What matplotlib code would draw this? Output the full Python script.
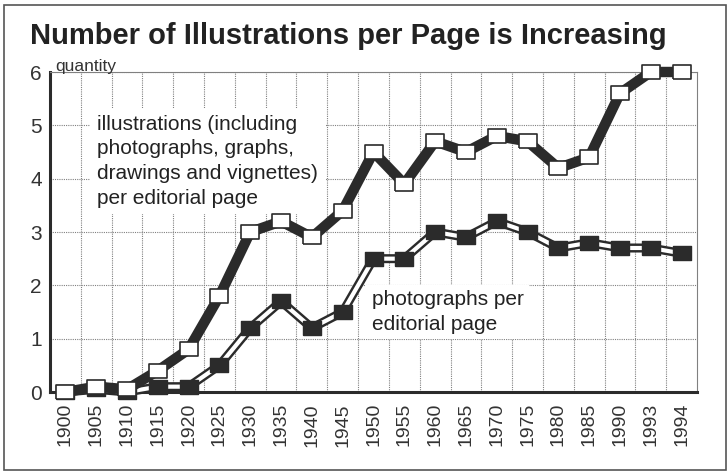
import matplotlib.pyplot as plt
from matplotlib.patches import Rectangle

years = ["1900", "1905", "1910", "1915", "1920", "1925", "1930", "1935", "1940",
         "1945", "1950", "1955", "1960", "1965", "1970", "1975", "1980", "1985",
         "1990", "1993", "1994"]
illustrations = [0.0, 0.1, 0.05, 0.4, 0.8, 1.8, 3.0, 3.2, 2.9, 3.4, 4.5, 3.9,
                 4.7, 4.5, 4.8, 4.7, 4.2, 4.4, 5.6, 6.0, 6.0]
photographs = [0.0, 0.05, 0.0, 0.1, 0.1, 0.5, 1.2, 1.7, 1.2, 1.5, 2.5, 2.5,
               3.0, 2.9, 3.2, 3.0, 2.7, 2.8, 2.7, 2.7, 2.6]

dark = "#2b2b2b"
grid_col = "#808080"
box = [(-1, -0.75), (1, -0.75), (1, 0.75), (-1, 0.75), (-1, -0.75)]

plt.rcParams["font.family"] = ["Liberation Sans", "DejaVu Sans"]

fig = plt.figure(figsize=(7.28, 4.74), dpi=100)
ax = fig.add_axes([50/728, 1-392/474, 647/728, 320/474])

x = list(range(len(years)))

# photographs: white line with dark outline, dark squares
ax.plot(x, photographs, color=dark, lw=6.5, zorder=3, clip_on=False)
ax.plot(x, photographs, color="white", lw=3, zorder=4, clip_on=False)
ax.plot(x, photographs, ls="none", marker=box, ms=12.5, mfc=dark, mec=dark,
        mew=1, zorder=5, clip_on=False)

# illustrations: thick dark line, white squares
ax.plot(x, illustrations, color=dark, lw=7.5, zorder=6, clip_on=False)
ax.plot(x, illustrations, ls="none", marker=box, ms=12.5, mfc="white", mec=dark,
        mew=1.2, zorder=7, clip_on=False)

ax.set_xlim(-0.5, len(years) - 0.5)
ax.set_ylim(0, 6)
ax.set_xticks(x)
ax.set_xticklabels(years, rotation=90, fontsize=14, color="#333333")
ax.set_yticks(range(7))
ax.set_yticklabels([str(i) for i in range(7)], fontsize=15, color="#333333")
ax.set_xticks([i + 0.5 for i in x[:-1]], minor=True)
ax.tick_params(which="both", length=0)
ax.tick_params(axis="y", pad=6)
ax.tick_params(axis="x", pad=8)

ax.grid(True, which="minor", axis="x", color=grid_col, lw=0.8, ls=(0, (1, 1)))
ax.grid(True, which="major", axis="y", color=grid_col, lw=0.8, ls=(0, (1, 1)))
ax.set_axisbelow(True)

for side in ["left", "bottom"]:
    ax.spines[side].set_linewidth(2.2)
    ax.spines[side].set_color(dark)
for side in ["top", "right"]:
    ax.spines[side].set_color(grid_col)
    ax.spines[side].set_linewidth(0.8)
    ax.spines[side].set_linestyle((0, (1, 1)))

ax.text(1.03, 4.33, "illustrations (including\nphotographs, graphs,\ndrawings and vignettes)\nper editorial page",
        fontsize=15, va="center", ha="left", linespacing=1.38, zorder=2, color="#222222",
        bbox=dict(facecolor="white", edgecolor="none", pad=5))
ax.text(9.95, 1.5, "photographs per\neditorial page",
        fontsize=15, va="center", ha="left", linespacing=1.38, zorder=2, color="#222222",
        bbox=dict(facecolor="white", edgecolor="none", pad=4))

fig.text(55/728, 1-71/474, "quantity", fontsize=12.5, ha="left", va="baseline",
         color="#333333")
fig.text(30/728, 1-36/474, "Number of Illustrations per Page is Increasing",
         fontsize=21, fontweight="bold", ha="left", va="center", color="#222222")

fig.patches.append(Rectangle((4/728, 4/474), 722/728, 465/474, transform=fig.transFigure,
                             fill=False, edgecolor="#555555", lw=1.2))

fig.savefig("out.png", dpi=100)
plt.close()
